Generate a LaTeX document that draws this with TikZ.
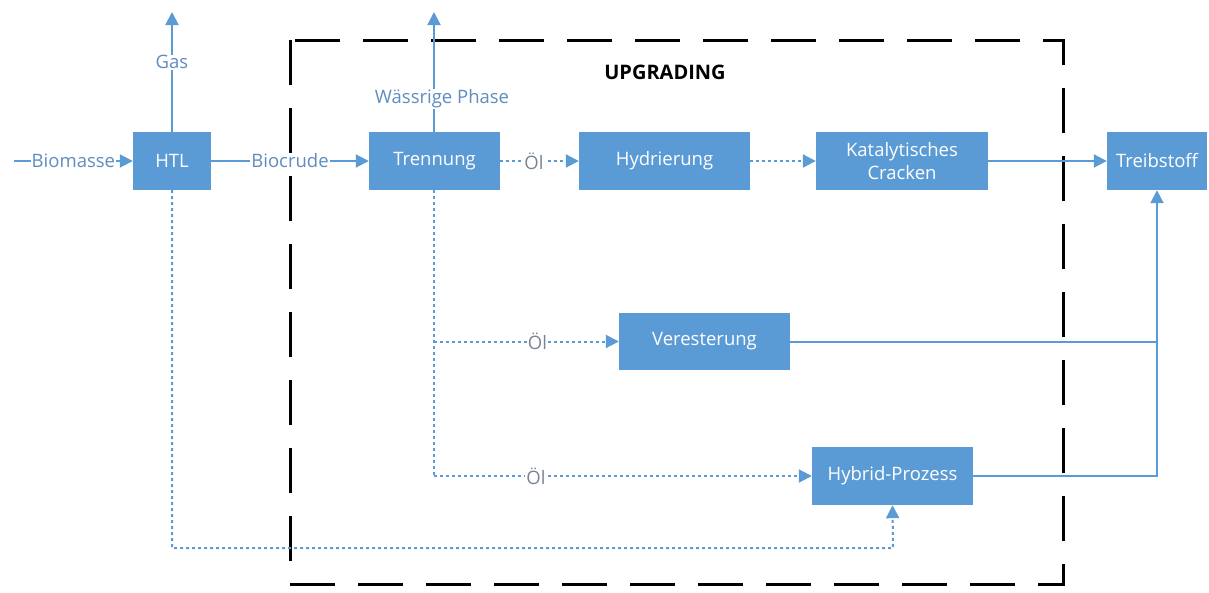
\documentclass[tikz,border=0pt]{standalone}
\usepackage{fontspec}
\setmainfont{Open Sans}
\usetikzlibrary{arrows.meta,calc}
\definecolor{boxblue}{HTML}{5B9BD5}
\definecolor{lblblue}{HTML}{5F8DC0}
\definecolor{oelgray}{HTML}{7A8494}
\tikzset{
  proc/.style={fill=boxblue, text=white, minimum height=58pt, inner sep=2pt, align=center, font=\fontsize{18.5}{23}\selectfont},
  flow/.style={draw=boxblue, line width=2pt},
  dotflow/.style={draw=boxblue, line width=2pt, dash pattern=on 3pt off 3pt},
  tip/.style={-{Triangle[length=13pt,width=13pt]}},
  lbl/.style={fill=white, text=lblblue, inner sep=1pt, font=\fontsize{18.5}{23}\selectfont},
  oel/.style={fill=white, text=oelgray, inner sep=1pt, font=\fontsize{18.5}{23}\selectfont},
}
\begin{document}
\begin{tikzpicture}[x=1pt,y=-1pt]
\useasboundingbox (0,0) rectangle (1209,592);
% frame
\draw[black, line width=3pt, dash pattern=on 45pt off 23pt] (290,40) rectangle (1063,584);
\node[font=\fontsize{20}{24}\selectfont\bfseries] (up) at (665,72) {UPGRADING};
% boxes
\node[proc, minimum width=78pt] (htl) at (172,161) {HTL};
\node[proc, minimum width=131pt] (tr) at (434.5,161) {Trennung};
\node[proc, minimum width=171pt] (hy) at (664.5,161) {Hydrierung};
\node[proc, minimum width=172pt] (kc) at (902,161) {Katalytisches\\Cracken};
\node[proc, minimum width=100pt] (tb) at (1157,161) {Treibstoff};
\node[proc, minimum width=171pt, minimum height=57pt] (ve) at (704.5,341.5) {Veresterung};
\node[proc, minimum width=161pt] (hp) at (892.5,476) {Hybrid-Prozess};
% coordinates
\coordinate (bin) at (14,161);
\coordinate (gasend) at (172,12);
\coordinate (wpend) at (434,12);
\coordinate (tdown) at (434,190);
\coordinate (tv) at (434,341.5);
\coordinate (th) at (434,476);
\coordinate (hb) at (172,548);
\coordinate (hpb) at (893,548);
\coordinate (jv) at (1157,341.5);
\coordinate (jh) at (1157,476);
% solid flows
\draw[flow, tip] (bin) -- (htl.west) node[lbl, pos=0.5] {Biomasse};
\draw[flow, tip] (htl.north) -- (gasend) node[lbl, pos=0.58] {Gas};
\draw[flow, tip] (htl.east) -- (tr.west) node[lbl, pos=0.5] {Biocrude};
\draw[flow, tip] (tdown |- tr.north) -- (wpend);
\node[lbl] (wp) at (442,99) {Wässrige Phase};
\draw[flow, tip] (kc.east) -- (tb.west);
\draw[flow] (ve.east) -- (jv);
\draw[flow, tip] (hp.east) -- (jh) -- (tb.south);
% dotted flows
\draw[dotflow, tip] (tr.east) -- (hy.west) node[oel, pos=0.43] {Öl};
\draw[dotflow, tip] (hy.east) -- (kc.west);
\draw[dotflow] (tdown) -- (th);
\draw[dotflow, tip] (tv) -- (ve.west) node[oel, pos=0.56] {Öl};
\draw[dotflow, tip] (th) -- (hp.west) node[oel, pos=0.27] {Öl};
\draw[dotflow, tip] (htl.south) -- (hb) -- (hpb) -- (hp.south);
\end{tikzpicture}
\end{document}
